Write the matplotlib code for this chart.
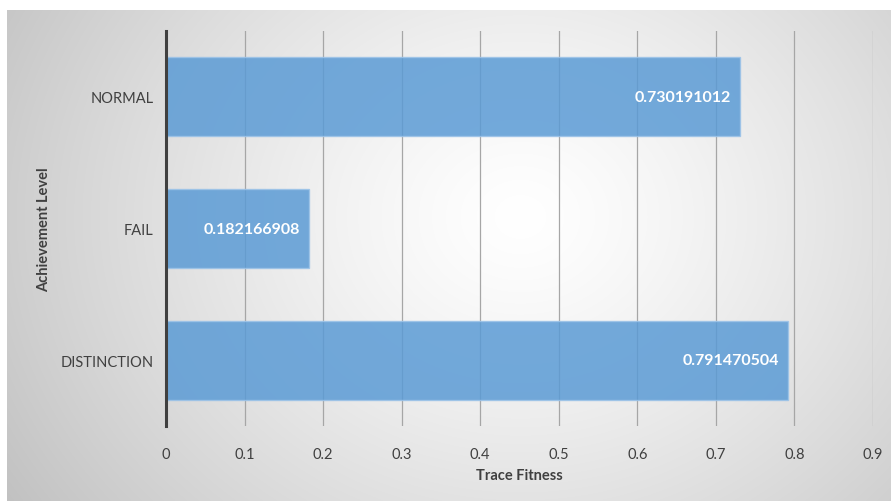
import numpy as np
import matplotlib
matplotlib.use("Agg")
import matplotlib.pyplot as plt

categories = ["DISTINCTION", "FAIL", "NORMAL"]
values = [0.791470504, 0.182166908, 0.730191012]
labels = ["0.791470504", "0.182166908", "0.730191012"]
xticks = [0, 0.1, 0.2, 0.3, 0.4, 0.5, 0.6, 0.7, 0.8, 0.9]
xticklabels = ["0", "0.1", "0.2", "0.3", "0.4", "0.5", "0.6", "0.7", "0.8", "0.9"]

plt.rcParams['font.family'] = ['Lato', 'DejaVu Sans']

W, H = 891, 502
fig = plt.figure(figsize=(W / 100, H / 100), dpi=100)
fig.patch.set_facecolor("white")

# radial gradient background
bg = fig.add_axes([7 / W, 0, 1 - 7 / W, 1 - 11 / H])
bg.set_axis_off()
ny, nx = 300, 540
yy, xx = np.mgrid[0:ny, 0:nx]
cx, cy = nx * 0.58, ny * 0.42
r = np.sqrt(((xx - cx) / (nx * 0.62)) ** 2 + ((yy - cy) / (ny * 0.95)) ** 2)
r = np.clip(r, 0, 1.2)
val = 1.0 - 0.21 * r ** 1.3
img = np.dstack([val, val, val])
bg.imshow(img, aspect="auto", extent=[0, 1, 0, 1], interpolation="bilinear")
bg.set_xlim(0, 1)
bg.set_ylim(0, 1)

left, right = 166 / W, 873 / W
top, bottom = 32 / H, 427 / H
ax = fig.add_axes([left, 1 - bottom, right - left, bottom - top])
ax.patch.set_alpha(0)

ypos = np.arange(len(categories))
ax.set_xlim(0, 0.9)
ax.set_ylim(-0.5, 2.5)
ax.set_xticks(xticks)
ax.set_xticklabels(xticklabels)
ax.grid(axis="x", color="#a6a6a6", linewidth=0.9, zorder=0)
ax.set_axisbelow(True)

bars = ax.barh(ypos, values, height=0.6, color="#5b9bd5", alpha=0.85,
               edgecolor="#9cc3e8", linewidth=1.0, zorder=2)
for y, v, lab in zip(ypos, values, labels):
    ax.text(v - 0.011, y, lab, ha="right", va="center", color="white",
            fontsize=11.5, fontweight="bold", zorder=3)

ax.set_yticks(ypos)
ax.set_yticklabels(categories)
for s in ["top", "right", "bottom"]:
    ax.spines[s].set_visible(False)
ax.spines["left"].set_color("#404040")
ax.spines["left"].set_linewidth(2.2)
ax.tick_params(axis="both", length=0, labelsize=10.5, labelcolor="#404040")
ax.tick_params(axis="y", pad=9)
ax.tick_params(axis="x", pad=15)

ax.set_xlabel("Trace Fitness", fontsize=10.5, fontweight="bold", color="#404040", labelpad=5)
ax.set_ylabel("Achievement Level", fontsize=10.5, fontweight="bold", color="#404040", labelpad=7)

fig.savefig("out.png", dpi=100)
